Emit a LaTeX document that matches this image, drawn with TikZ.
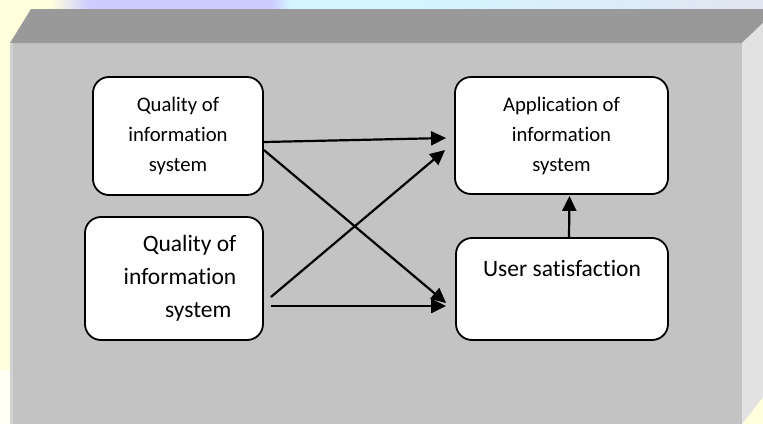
\documentclass[tikz,border=0pt]{standalone}
\usepackage{fontspec}
\setmainfont{Carlito}[Ligatures={NoCommon,NoContextual}]
\usetikzlibrary{arrows.meta}
\newcommand\fsz[2]{\fontsize{#1}{#2}\selectfont}
\definecolor{bgyellow}{HTML}{FFFFDD}
\definecolor{bglav}{HTML}{CCCCFF}
\definecolor{bgcyan}{HTML}{D4F6FF}
\definecolor{bgright}{HTML}{E2E6F2}
\definecolor{topbevel}{HTML}{999999}
\definecolor{frontface}{HTML}{C3C3C3}
\definecolor{rightbevel}{HTML}{E2E2E2}
\tikzset{
  box/.style={draw=black, line width=1.8pt, fill=white, rounded corners=16pt, inner sep=0pt},
  conn/.style={line width=2.2pt, -{Triangle[length=15pt,width=14pt]}}
}
\begin{document}
\begin{tikzpicture}[x=1pt,y=-1pt]
\useasboundingbox (0,0) rectangle (763,424);
% background
\fill[bgyellow] (0,0) rectangle (763,424);
\fill[white!70!bgyellow] (0,370) rectangle (10,424);
\shade[left color=bgyellow, right color=bglav] (50,0) rectangle (90,9);
\fill[bglav] (90,0) rectangle (272,9);
\shade[left color=bglav, right color=bgcyan] (272,0) rectangle (290,9);
\fill[bgcyan] (290,0) rectangle (410,9);
\shade[left color=bgcyan, right color=bgright] (410,0) rectangle (763,9);
% 3D panel
\fill[topbevel] (10,43) -- (31,9) -- (763,9) -- (763,23) -- (742,43) -- cycle;
\fill[rightbevel] (742,43) -- (763,23) -- (763,397) -- (742,424) -- cycle;
\fill[frontface] (10,43) rectangle (742,424);
\fill[black!25] (10,43) rectangle (742,45);
\fill[black!18] (10,43) rectangle (13,424);
% nodes
\node[box, minimum width=170pt, minimum height=118pt, align=center, font=\fsz{20.7}{30}]
  (A) at (178,136) {Quality of\\information\\system};
\node[box, minimum width=178pt, minimum height=123pt, align=right, font=\fsz{23.5}{33}]
  (B) at (174,278.5) {Quality of\\\hspace*{12pt}information\\system\hspace*{5pt}};
\node[box, minimum width=213pt, minimum height=117pt, align=center, font=\fsz{20.7}{30}]
  (C) at (561.5,135.5) {Application of\\information\\system};
\node[box, minimum width=212pt, minimum height=102pt, font=\fsz{23.5}{28}, text height=16pt, text depth=42pt]
  (D) at (562,289) {User satisfaction};
% connectors
\draw[conn] ([yshift=-6pt]A.east) -- ([xshift=-8pt,yshift=-2.5pt]C.west);
\draw[conn] ([yshift=-14pt]A.east) -- ([xshift=-9pt,yshift=-14pt]D.west);
\draw[conn] ([xshift=7pt,yshift=-18.5pt]B.east) -- ([xshift=-9pt,yshift=-14.5pt]C.west);
\draw[conn] ([xshift=7pt,yshift=-27.5pt]B.east) -- ([xshift=-9pt,yshift=-17pt]D.west);
\draw[conn] ([xshift=7pt]D.north) -- ([xshift=8pt,yshift=-1pt]C.south);
\end{tikzpicture}
\end{document}
